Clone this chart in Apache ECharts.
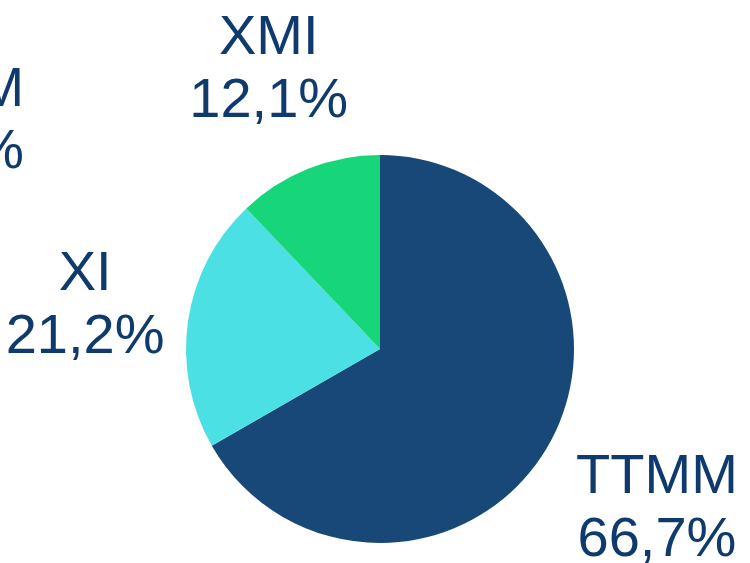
<!DOCTYPE html>
<html>
<head>
<meta charset="utf-8">
<script src="https://cdn.jsdelivr.net/npm/echarts@6/dist/echarts.min.js"></script>
<style>html,body{margin:0;padding:0;background:#fff;}#c{width:750px;height:563px;}</style>
</head>
<body>
<div id="c"></div>
<script>
var categories = ['TTMM', 'XI', 'XMI'];
var values = [66.7, 21.2, 12.1];
var valueLabels = ['66,7%', '21,2%', '12,1%'];
var colors = ['#174878', '#4AE0E4', '#17D67A'];

var CX = 380, CY = 349, R = 194;
var labelDist = [320, 298, 300];
var total = values.reduce(function (a, b) { return a + b; }, 0);
var cum = [];
(function () { var s = 0; for (var i = 0; i < values.length; i++) { cum.push(s + values[i] / 2); s += values[i]; } })();

var chart = echarts.init(document.getElementById('c'), null, {renderer: 'canvas'});
chart.setOption({
  backgroundColor: '#ffffff',
  animation: false,
  graphic: [{
    type: 'text',
    style: {
      x: 24, y: 122,
      text: 'TTMM\n0,0%',
      align: 'right',
      verticalAlign: 'middle',
      font: '55px "Liberation Sans", Arial, sans-serif',
      lineHeight: 62,
      fill: '#0E3A6E'
    }
  }],
  series: [{
    type: 'pie',
    center: [CX, CY],
    radius: [0, R],
    startAngle: 90,
    clockwise: true,
    silent: true,
    avoidLabelOverlap: false,
    data: categories.map(function (c, i) {
      return {name: c, value: values[i], itemStyle: {color: colors[i]}};
    }),
    label: {
      show: true,
      position: 'outside',
      overflow: 'none',
      width: 300,
      formatter: function (p) { return p.name + '\n' + valueLabels[p.dataIndex]; },
      fontFamily: '"Liberation Sans", Arial, sans-serif',
      fontSize: 56,
      lineHeight: 63,
      color: '#0E3A6E',
      align: 'center'
    },
    labelLine: {show: false},
    labelLayout: function (p) {
      var i = p.dataIndex;
      var ang = (90 - cum[i] / total * 360) * Math.PI / 180;
      return {
        x: CX + labelDist[i] * Math.cos(ang),
        y: CY - labelDist[i] * Math.sin(ang),
        align: 'center',
        verticalAlign: 'middle'
      };
    }
  }]
});
</script>
</body>
</html>
